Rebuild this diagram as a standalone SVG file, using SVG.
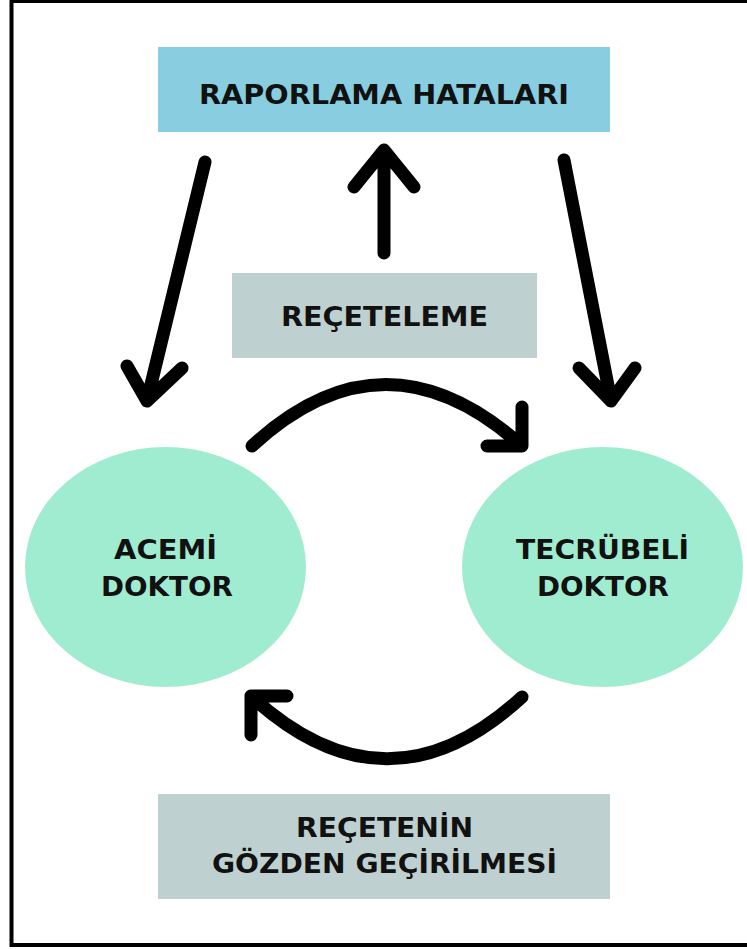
<svg xmlns="http://www.w3.org/2000/svg" width="747" height="949" viewBox="0 0 747 949">
<style>
.lbl{font-family:"DejaVu Sans","Liberation Sans",sans-serif;font-weight:bold;font-size:26px;fill:#111;text-anchor:middle}
.arr{fill:none;stroke:#000;stroke-width:13;stroke-linecap:round;stroke-linejoin:round}
.blue{fill:#88CEE0}
.gray{fill:#BFD0D0}
.mint{fill:#A0ECD0}
</style>
<rect x="0" y="0" width="747" height="949" fill="#fff"/>
<rect x="11.5" y="1" width="760" height="944" fill="none" stroke="#000" stroke-width="4"/>
<g id="raporlama">
<rect class="blue" x="158" y="47" width="452" height="85"/>
<text class="lbl" x="384" y="104" textLength="370" lengthAdjust="spacingAndGlyphs">RAPORLAMA HATALARI</text>
</g>
<g id="receteleme">
<rect class="gray" x="232" y="273" width="305" height="85"/>
<text class="lbl" x="384.5" y="326" textLength="207" lengthAdjust="spacingAndGlyphs">REÇETELEME</text>
</g>
<g id="acemi">
<ellipse class="mint" cx="165.5" cy="567" rx="140.5" ry="120"/>
<text class="lbl" x="165.5" y="559" textLength="103" lengthAdjust="spacingAndGlyphs">ACEMİ</text>
<text class="lbl" x="167" y="596" textLength="132" lengthAdjust="spacingAndGlyphs">DOKTOR</text>
</g>
<g id="tecrubeli">
<ellipse class="mint" cx="602.5" cy="567" rx="140.5" ry="120"/>
<text class="lbl" x="602.5" y="559" textLength="173" lengthAdjust="spacingAndGlyphs">TECRÜBELİ</text>
<text class="lbl" x="603" y="596" textLength="132" lengthAdjust="spacingAndGlyphs">DOKTOR</text>
</g>
<g id="gozden">
<rect class="gray" x="158" y="794" width="452" height="105"/>
<text class="lbl" x="384.5" y="837" textLength="177" lengthAdjust="spacingAndGlyphs">REÇETENİN</text>
<text class="lbl" x="384.5" y="873" textLength="345" lengthAdjust="spacingAndGlyphs">GÖZDEN GEÇİRİLMESİ</text>
</g>
<g id="connectors">
<path class="arr" d="M384,253 L384,150 M354,187 L384,150 L414,187"/>
<path class="arr" d="M205,162 L147,401 M127,366 L147,401 L182,368"/>
<path class="arr" d="M564,160 L611,401 M579,368 L611,401 L635,368"/>
<path class="arr" d="M252,446 Q385,323 522,446 M522,407 L522,446 L487,446"/>
<path class="arr" d="M522,697 Q387,821 251,696 M287,696 L251,696 L251,735"/>
</g>
</svg>
